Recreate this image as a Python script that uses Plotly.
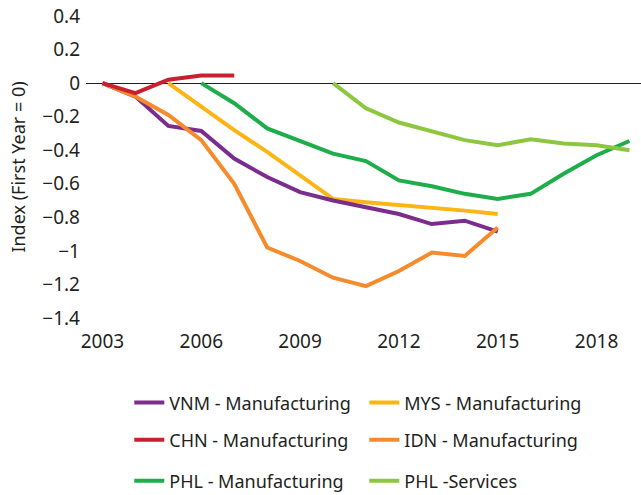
import plotly.graph_objects as go

# index values (first year = 0)
vnm_years = list(range(2003, 2016))
vnm_vals = [0, -0.08, -0.255, -0.285, -0.45, -0.56, -0.65, -0.70, -0.74, -0.78, -0.84, -0.82, -0.885]

chn_years = list(range(2003, 2008))
chn_vals = [0, -0.06, 0.02, 0.045, 0.045]

mys_years = list(range(2005, 2016))
mys_vals = [0, -0.14, -0.28, -0.41, -0.55, -0.69, -0.71, -0.725, -0.74, -0.76, -0.78]

idn_years = list(range(2003, 2016))
idn_vals = [0, -0.08, -0.19, -0.34, -0.60, -0.98, -1.06, -1.16, -1.21, -1.12, -1.01, -1.03, -0.86]

phl_m_years = list(range(2006, 2020))
phl_m_vals = [0, -0.12, -0.27, -0.345, -0.42, -0.465, -0.58, -0.615, -0.66, -0.69, -0.66, -0.54, -0.43, -0.345]

phl_s_years = list(range(2010, 2020))
phl_s_vals = [0, -0.15, -0.235, -0.29, -0.34, -0.37, -0.335, -0.36, -0.37, -0.40]

# (name, x, y, colour, legend row) - legend is read row by row
series = [
    ("VNM - Manufacturing", vnm_years, vnm_vals, "#7B2D8E", "legend"),
    ("MYS - Manufacturing", mys_years, mys_vals, "#FDB515", "legend"),
    ("CHN - Manufacturing", chn_years, chn_vals, "#C8202F", "legend2"),
    ("IDN - Manufacturing", idn_years, idn_vals, "#F68B2C", "legend2"),
    ("PHL - Manufacturing", phl_m_years, phl_m_vals, "#1DAE4B", "legend3"),
    ("PHL -Services", phl_s_years, phl_s_vals, "#8DC63F", "legend3"),
]

fig = go.Figure()

# draw order so the lines overlap like the original
draw_order = [4, 5, 1, 0, 3, 2]
for i in draw_order:
    name, xs, ys, col, leg = series[i]
    fig.add_trace(go.Scatter(x=xs, y=ys, name=name, mode="lines",
                             line=dict(color=col, width=4),
                             legend=leg, legendrank=i))

font = dict(family="Noto Sans, Open Sans, sans-serif", size=19, color="#231F20")

legend_style = dict(orientation="h", x=0.078, xanchor="left", yanchor="middle",
                    entrywidth=190, entrywidthmode="pixels",
                    font=dict(family="Noto Sans, sans-serif", size=18, color="#231F20"),
                    bgcolor="rgba(0,0,0,0)", traceorder="normal")

fig.update_layout(
    width=641, height=495,
    margin=dict(l=86, r=0, t=16, b=177, autoexpand=False),
    paper_bgcolor="white", plot_bgcolor="white",
    font=font,
    showlegend=True,
    legend=dict(y=-0.281, **legend_style),
    legend2=dict(y=-0.404, **legend_style),
    legend3=dict(y=-0.54, **legend_style),
)

fig.update_xaxes(range=[2002.5, 2019.35], tick0=2003, dtick=3,
                 showgrid=False, zeroline=False, showline=False,
                 ticks="", ticklabelstandoff=10)
fig.update_yaxes(range=[-1.4, 0.4], dtick=0.2, tick0=0,
                 showgrid=False, zeroline=True, zerolinecolor="#231F20",
                 zerolinewidth=1.2, showline=False, ticks="",
                 ticklabelstandoff=5, ticklabeloverflow="allow",
                 title=dict(text="Index (First Year = 0)", standoff=11,
                            font=dict(size=18)))

# drop the default page margin so the figure sits at the window corner
fig.write_html("out.html", config={"displayModeBar": False},
               post_script="document.body.style.margin='0';")
